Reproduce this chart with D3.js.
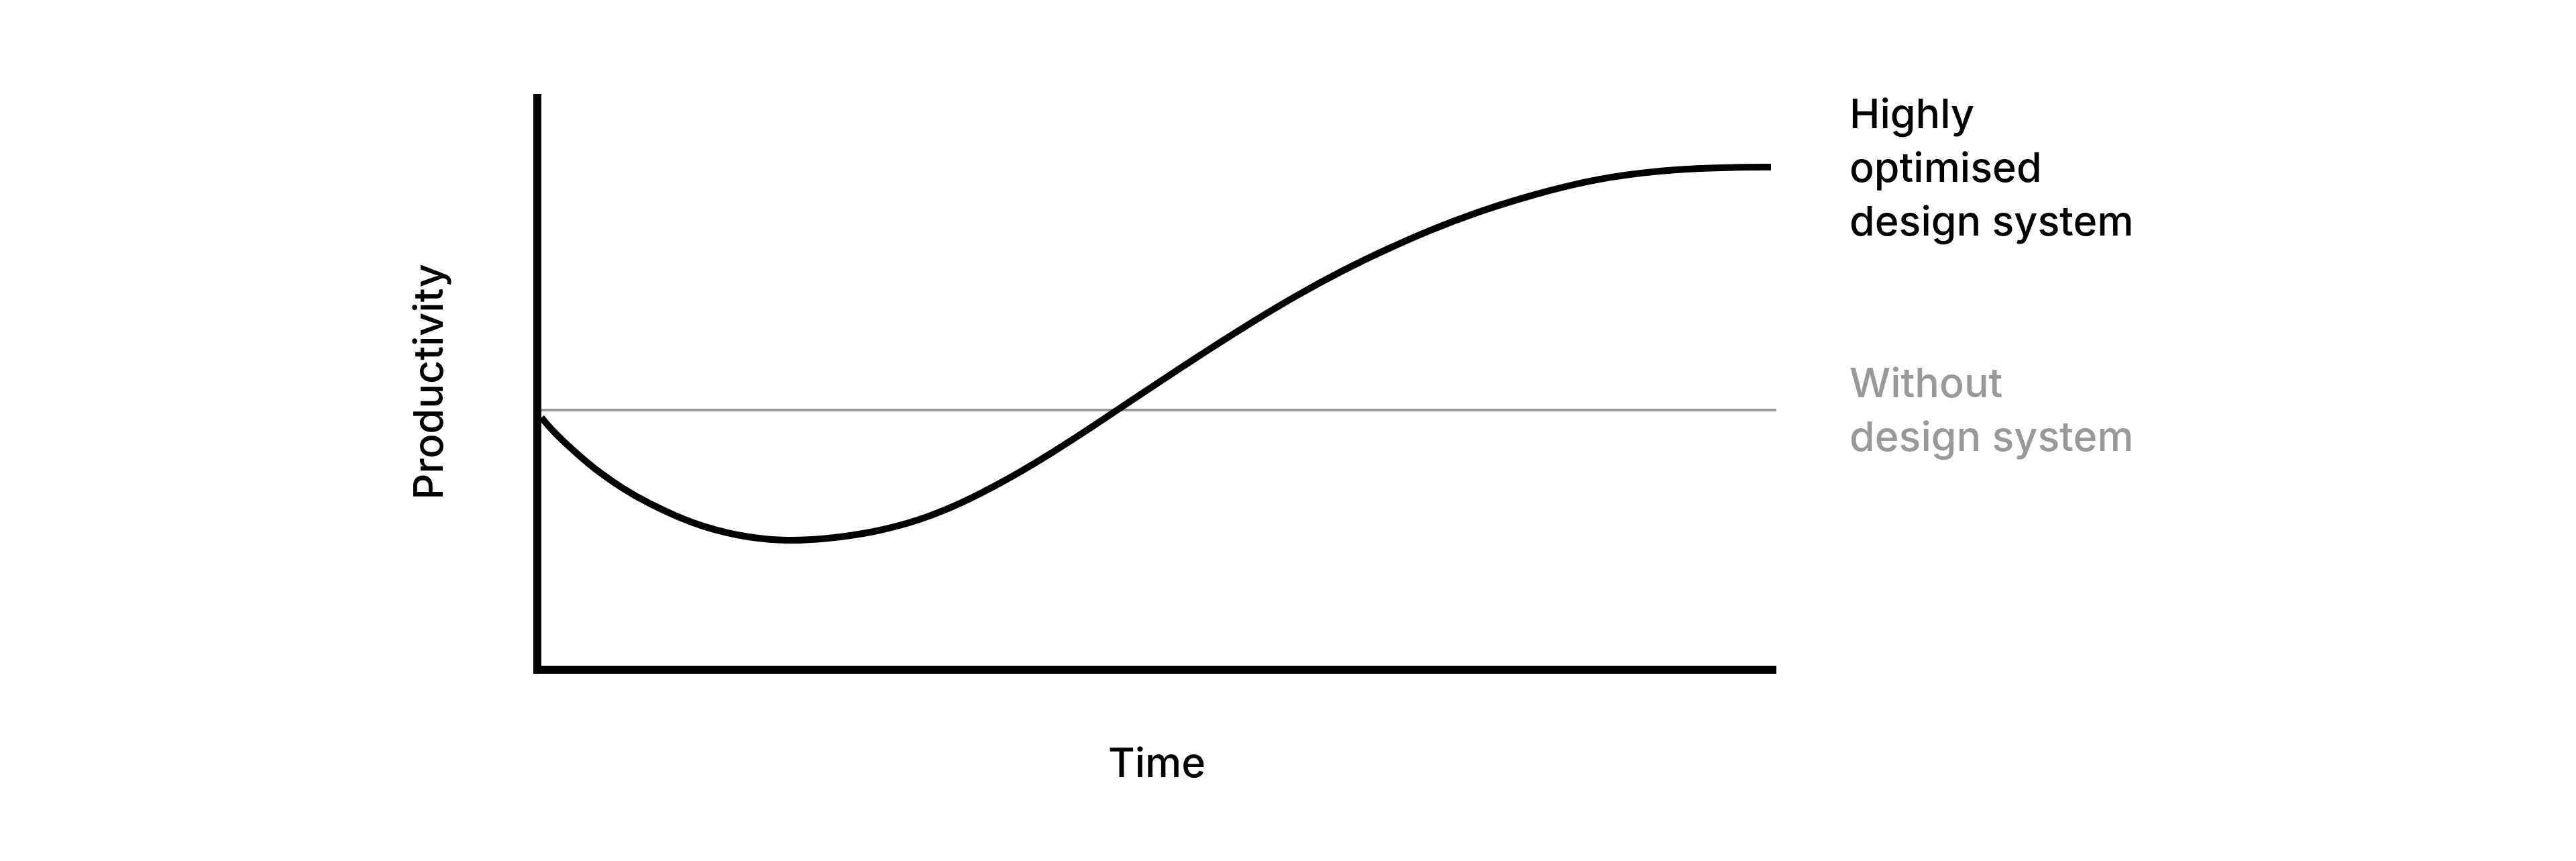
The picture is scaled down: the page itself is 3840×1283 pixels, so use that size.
<!DOCTYPE html>
<html>
<head>
<meta charset="utf-8">
<script src="https://cdn.jsdelivr.net/npm/d3@7"></script>
<style>
  html, body { margin: 0; padding: 0; background: #fff; }
  svg { display: block; }
  text { font-family: Inter, "Noto Sans", sans-serif; font-weight: 500; }
</style>
</head>
<body>
<svg id="chart" width="3840" height="1283"></svg>
<script>
// ---- data ----
const time = [0, 1.15, 3.0, 4.8, 6.6, 8.5, 12.3, 16.0, 19.6, 23.2, 26.9, 30.6, 34.2, 37.8, 41.5, 45.1, 48.7, 52.4, 54.2, 57.8, 61.4, 65.1, 68.7, 72.3, 76.0, 79.7, 83.3, 86.9, 90.6, 94.2, 97.8, 100];
const optimised = [43.8, 40.9, 37.3, 34.1, 31.5, 29.1, 25.3, 23.2, 22.3, 22.7, 23.8, 25.8, 28.9, 32.9, 37.6, 42.6, 47.8, 53.0, 55.5, 60.4, 65.0, 69.3, 73.0, 76.4, 79.4, 81.9, 84.0, 85.6, 86.6, 87.1, 87.3, 87.3];
const baseline = [45.1, 45.1];
const baselineTime = [0, 100];
const seriesLabels = [["Highly", "optimised", "design system"], ["Without", "design system"]];
const axisLabels = { x: "Time", y: "Productivity" };

// ---- layout ----
const svg = d3.select("#chart");
const x = d3.scaleLinear().domain([0, 100]).range([807, 2640]);
const y = d3.scaleLinear().domain([0, 100]).range([998, 140]);
const axisW = 12;

// baseline (without design system)
svg.append("path")
  .datum(baselineTime.map((t, i) => [t, baseline[i]]))
  .attr("fill", "none")
  .attr("stroke", "#999")
  .attr("stroke-width", 4)
  .attr("d", d3.line().x((d, i) => i === 0 ? x(d[0]) : x(d[0]) + 8).y(d => y(d[1])));

// optimised curve
svg.append("path")
  .datum(time.map((t, i) => [t, optimised[i]]))
  .attr("fill", "none")
  .attr("stroke", "#000")
  .attr("stroke-width", 10)
  .attr("stroke-linecap", "butt")
  .attr("d", d3.line().x(d => x(d[0])).y(d => y(d[1])).curve(d3.curveBasis));

// axes
const ax = x(0) - axisW / 2;
svg.append("path")
  .attr("fill", "none")
  .attr("stroke", "#000")
  .attr("stroke-width", axisW)
  .attr("stroke-linejoin", "miter")
  .attr("d", `M${ax},${y(100)}V${y(0)}H${x(100) + 8}`);

// axis titles
svg.append("text")
  .attr("x", (ax + x(100) + 8) / 2)
  .attr("y", y(0) + 160)
  .attr("text-anchor", "middle")
  .attr("font-size", 61)
  .attr("fill", "#000")
  .text(axisLabels.x);

svg.append("text")
  .attr("transform", `translate(${ax - 141},${(y(0) + y(100)) / 2}) rotate(-90)`)
  .attr("text-anchor", "middle")
  .attr("font-size", 61)
  .attr("fill", "#000")
  .text(axisLabels.y);

// series labels
const labelX = x(100) + 117;
const lineH = 80;
const blackStart = y(optimised[optimised.length - 1]) - 58;
const grayStart = y(baseline[1]) - 19;
[[seriesLabels[0], blackStart, "#000"], [seriesLabels[1], grayStart, "#999"]].forEach(([lines, y0, col]) => {
  const t = svg.append("text")
    .attr("x", labelX)
    .attr("y", y0)
    .attr("font-size", 61)
    .attr("fill", col);
  lines.forEach((ln, i) => {
    t.append("tspan").attr("x", labelX).attr("y", y0 + i * lineH).text(ln);
  });
});
</script>
</body>
</html>
